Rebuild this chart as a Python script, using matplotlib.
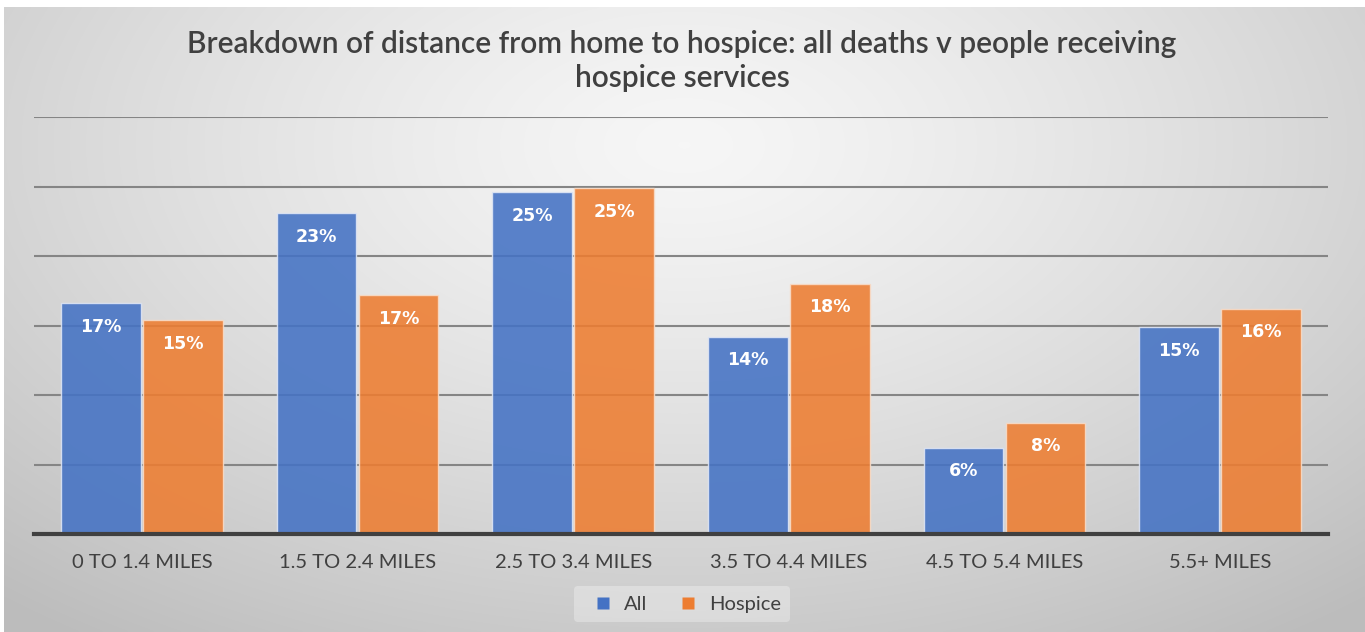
import numpy as np
import matplotlib
matplotlib.use("Agg")
import matplotlib.pyplot as plt
from matplotlib.lines import Line2D

# Distance bands and share of deaths (%) in each band
categories = ["0 TO 1.4 MILES", "1.5 TO 2.4 MILES", "2.5 TO 3.4 MILES",
              "3.5 TO 4.4 MILES", "4.5 TO 5.4 MILES", "5.5+ MILES"]
all_deaths = [16.6, 23.1, 24.6, 14.2, 6.2, 14.9]
hospice = [15.4, 17.2, 24.9, 18.0, 8.0, 16.2]
series_names = ["All", "Hospice"]

title = "Breakdown of distance from home to hospice: all deaths v people receiving\nhospice services"

W, H = 1365, 632
fig = plt.figure(figsize=(W / 100, H / 100), dpi=100)
fig.patch.set_facecolor("white")

# Radial grey gradient behind the chart
bg = fig.add_axes([4 / W, 0, 1 - 4 / W, 1 - 7 / H], zorder=-10)
yy, xx = np.mgrid[0:1:300j, 0:1:600j]
r = np.sqrt(((xx - 0.5) / 0.75) ** 2 + ((yy - 0.22) / 0.95) ** 2)
shade = np.clip(0.965 - 0.22 * r ** 1.3, 0.74, 0.97)
bg.imshow(np.dstack([shade] * 3), aspect="auto", extent=[0, 1, 1, 0],
          interpolation="bilinear")
bg.axis("off")

ax = fig.add_axes([34 / W, 1 - 534 / H, (1328 - 34) / W, (534 - 117) / H])
ax.set_facecolor("none")

x = np.arange(len(categories))
w = 0.37
off = 0.19
c_all = "#4472C4"
c_hos = "#ED7D31"
b1 = ax.bar(x - off, all_deaths, w, color=c_all, alpha=0.88,
            edgecolor="#dfe6f5", linewidth=1.0, zorder=3)
b2 = ax.bar(x + off, hospice, w, color=c_hos, alpha=0.88,
            edgecolor="#f8dcc8", linewidth=1.0, zorder=3)

for bars, vals in ((b1, all_deaths), (b2, hospice)):
    for rect, v in zip(bars, vals):
        ax.annotate(f"{round(v):d}%", (rect.get_x() + rect.get_width() / 2, v),
                    xytext=(0, -17), textcoords="offset points",
                    ha="center", va="center", color="white",
                    fontsize=12.5, fontweight="bold", family="DejaVu Sans",
                    zorder=5)

ax.set_ylim(0, 30)
ax.set_xlim(-0.5, len(categories) - 0.5)
ax.set_yticks(np.arange(5, 31, 5))
ax.yaxis.grid(True, color="#858585", linewidth=1.5, zorder=4)
ax.tick_params(axis="y", left=False, labelleft=False)
ax.tick_params(axis="x", bottom=False, pad=11)
ax.set_xticks(x)
ax.set_xticklabels(categories, fontsize=14.5, color="#404040", family="Lato")
for s in ("top", "right", "left"):
    ax.spines[s].set_visible(False)
ax.spines["bottom"].set_color("#404040")
ax.spines["bottom"].set_linewidth(3)
ax.spines["bottom"].set_zorder(6)

fig.text(682 / W, 1 - 61 / H, title, ha="center", va="center",
         fontsize=21.5, color="#404040", family="Lato", fontweight="semibold",
         linespacing=1.3)

handles = [Line2D([], [], marker="s", linestyle="none", markersize=8,
                  markerfacecolor=c, markeredgecolor="none")
           for c in (c_all, c_hos)]
leg = fig.legend(handles, series_names, loc="center",
                 bbox_to_anchor=(682 / W, 1 - 604 / H), ncol=2,
                 frameon=True, handletextpad=0.05,
                 columnspacing=1.0, borderpad=0.45,
                 prop={"family": "Lato", "size": 14.5})
leg.get_frame().set_facecolor("white")
leg.get_frame().set_alpha(0.3)
leg.get_frame().set_edgecolor("none")
for t in leg.get_texts():
    t.set_color("#404040")

fig.savefig("out.png", dpi=100)
